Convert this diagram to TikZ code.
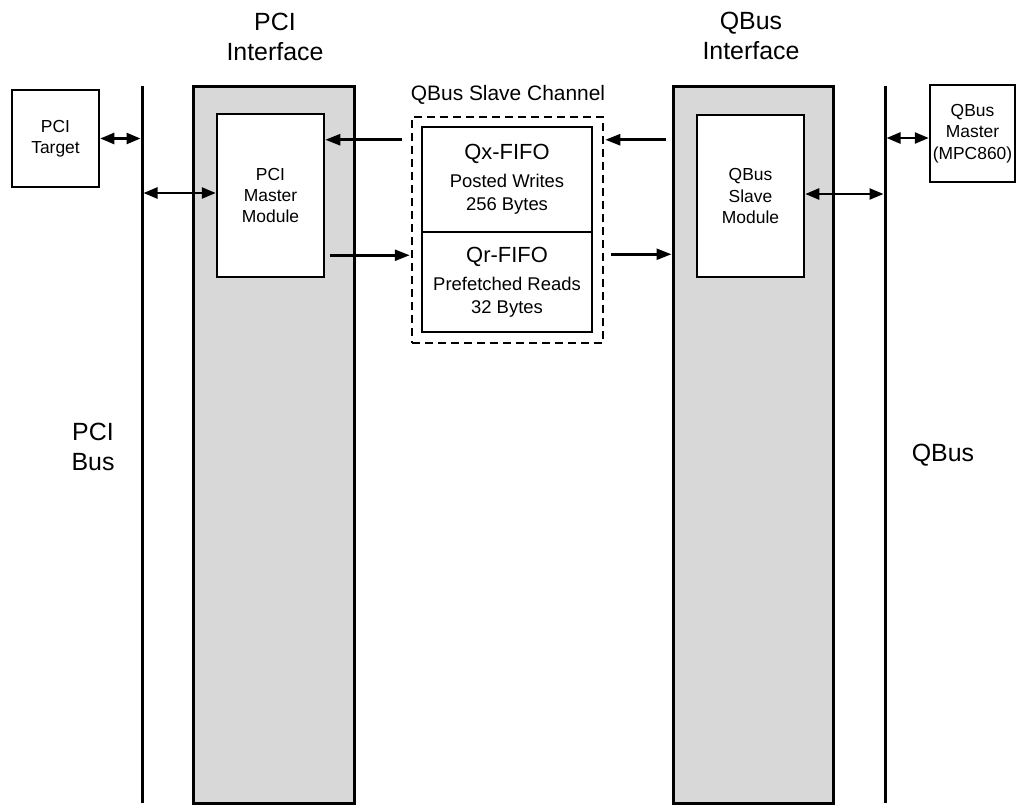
\documentclass[tikz,border=0pt]{standalone}
\usepackage{fontspec}
\setmainfont{Liberation Sans}
\usetikzlibrary{arrows.meta,calc}
\definecolor{ifgray}{RGB}{216,216,216}
\tikzset{
 box/.style={draw, line width=2.5bp, fill=white, inner sep=0pt, align=center},
 ifbox/.style={draw, line width=3bp, fill=ifgray, inner sep=0pt},
 chanbox/.style={draw, line width=2.5bp, dash pattern=on 8bp off 5bp, inner sep=0pt},
 busline/.style={line width=3bp},
 arr/.style={line width=2.5bp, -{Triangle[length=15bp,width=11bp]}},
 darr/.style={line width=2.5bp, {Triangle[length=14bp,width=11bp]}-{Triangle[length=14bp,width=11bp]}},
 big/.style={font=\fontsize{25}{30}\selectfont, align=center},
 mod/.style={font=\fontsize{17.5}{21.5}\selectfont},
 fifo/.style={font=\fontsize{18.5}{23}\selectfont},
}
\begin{document}
\begin{tikzpicture}[x=1bp,y=-1bp]
\useasboundingbox (0,0) rectangle (1017,806);
% interface columns
\node[ifbox, minimum width=161bp, minimum height=716bp] (pif) at (273.5,445) {};
\node[ifbox, minimum width=160bp, minimum height=716bp] (qif) at (753,445) {};
% buses
\coordinate (pcit) at (142,86);
\coordinate (pcib) at (142,803);
\coordinate (qbt) at (885,86);
\coordinate (qbb) at (885,803);
\draw[busline] (pcit) -- (pcib);
\draw[busline] (qbt) -- (qbb);
% boxes
\node[box, mod, minimum width=87bp, minimum height=97bp] (tgt) at (55.5,138.5) {PCI\\Target};
\node[box, mod, minimum width=107bp, minimum height=163bp] (pcim) at (270.5,195.5) {PCI\\Master\\Module};
\node[box, mod, minimum width=107bp, minimum height=162bp] (qsm) at (750.5,196) {QBus\\Slave\\Module};
\node[box, mod, minimum width=85bp, minimum height=97bp] (qm) at (972.5,133.5) {QBus\\Master\\(MPC860)};
\node[chanbox, minimum width=191bp, minimum height=226bp] (chan) at (507.5,230) {};
\node[box, fifo, minimum width=170bp, minimum height=105bp] (qx) at (507,179.5)
  {{\fontsize{22}{22}\selectfont Qx-FIFO}\\[5bp]Posted Writes\\256 Bytes};
\node[box, fifo, minimum width=170bp, minimum height=100bp] (qr) at (507,282)
  {{\fontsize{22}{22}\selectfont Qr-FIFO}\\[5bp]Prefetched Reads\\32 Bytes};
% labels
\node[big] (lpif) at (275,37) {PCI\\Interface};
\node[big] (lqif) at (751,36) {QBus\\Interface};
\node[big] (lpb) at (93,447) {PCI\\Bus};
\node[big] (lqb) at (943,455) {QBus};
\node[font=\fontsize{21}{25}\selectfont] (lch) at (508,95) {QBus Slave Channel};
% connector anchor points
\coordinate (p1) at ($(pcim.west)+(0,-2.5)$);
\coordinate (a1) at ($(pcim.north east)+(0,27)$);
\coordinate (a2) at ($(pcim.south east)+(0,-23)$);
\coordinate (b1) at ($(qsm.north west)+(0,26)$);
\coordinate (b2) at ($(qsm.south west)+(0,-24)$);
\coordinate (q1) at ($(qsm.east)+(0,-2)$);
\coordinate (q2) at ($(qm.west)+(0,4.5)$);
% connectors
\draw[darr, shorten >=1.5bp] (tgt.east) -- (tgt.east -| pcit);
\draw[darr, shorten <=1.5bp] (p1 -| pcit) -- (p1);
\draw[arr, shorten <=9bp] (a1 -| chan.west) -- (a1);
\draw[arr, shorten <=5bp, shorten >=1bp] (a2) -- (a2 -| chan.west);
\draw[arr, shorten <=6bp, shorten >=1bp] (b1 -| qif.west) -- (b1 -| chan.east);
\draw[arr, shorten <=7bp] (b2 -| chan.east) -- (b2 -| qif.west);
\draw[darr, shorten >=1.5bp] (q1) -- (q1 -| qbt);
\draw[darr, shorten <=1.5bp] (q2 -| qbt) -- (q2);
\end{tikzpicture}
\end{document}
